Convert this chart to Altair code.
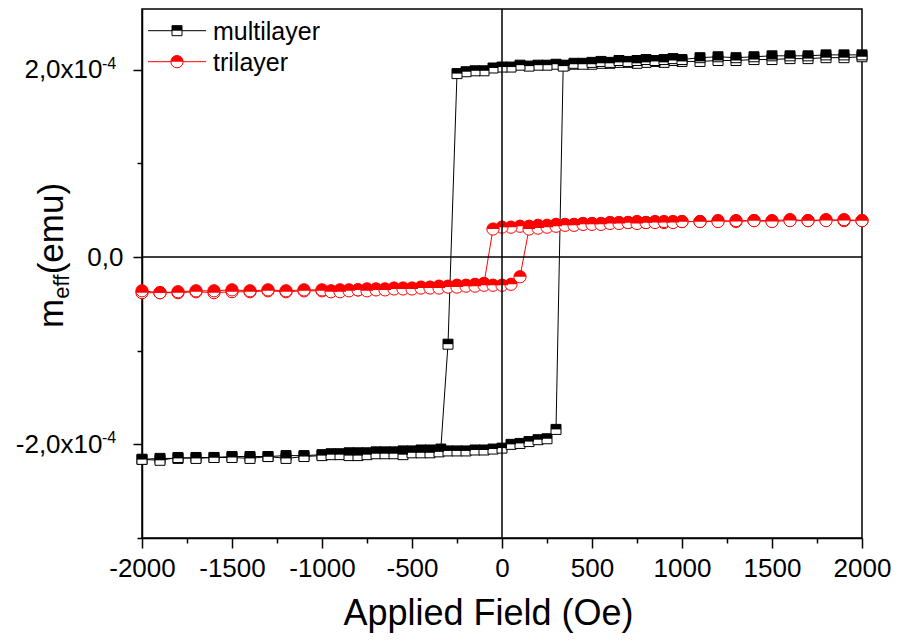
import altair as alt
import pandas as pd

# ---------------- data (m in units of 1e-4 emu) ----------------
series_names = ["multilayer", "trilayer"]
series_colors = ["black", "red"]

ml_down_H = [2000, 1900, 1800, 1700, 1600, 1500, 1400, 1300, 1200, 1100,
             1000, 950, 900, 850, 800, 750, 700, 650, 600, 550, 500, 450, 400, 350, 300,
             250, 200, 150, 100, 50, 0, -50, -100, -150, -200, -250, -300,
             -340, -400, -450, -500, -550, -600, -650, -700, -750, -800, -850, -900, -950, -1000,
             -1100, -1200, -1300, -1400, -1500, -1600, -1700, -1800, -1900, -2000]
ml_down_m = [2.14, 2.13, 2.13, 2.12, 2.12, 2.11, 2.11, 2.10, 2.10, 2.09,
             2.09, 2.10, 2.08, 2.09, 2.08, 2.07, 2.08, 2.08, 2.07, 2.07, 2.06, 2.07, 2.06, 2.05, 2.06,
             2.05, 2.05, 2.04, 2.05, 2.03, 2.03, 2.02, 1.99, 1.99, 1.98, 1.96, -0.93,
             -2.05, -2.06, -2.06, -2.07, -2.07, -2.08, -2.08, -2.08, -2.09, -2.09, -2.09, -2.10, -2.10, -2.11,
             -2.12, -2.12, -2.13, -2.13, -2.13, -2.14, -2.14, -2.15, -2.15, -2.16]

ml_up_H = [-2000, -1900, -1800, -1700, -1600, -1500, -1400, -1300, -1200, -1100,
           -1000, -950, -900, -850, -800, -750, -700, -650, -600, -550, -500, -450, -400, -350,
           -300, -250, -200, -150, -100, -50, 0, 50, 100, 150, 200, 250, 300,
           340, 400, 450, 500, 550, 600, 650, 700, 750, 800, 850, 900, 950, 1000,
           1100, 1200, 1300, 1400, 1500, 1600, 1700, 1800, 1900, 2000]
ml_up_m = [-2.16, -2.17, -2.14, -2.15, -2.14, -2.14, -2.15, -2.13, -2.15, -2.13,
           -2.12, -2.11, -2.11, -2.12, -2.12, -2.11, -2.10, -2.10, -2.10, -2.11, -2.09, -2.09, -2.09, -2.08,
           -2.07, -2.07, -2.07, -2.06, -2.06, -2.05, -2.04, -2.00, -1.99, -1.97, -1.95, -1.94, -1.84,
           2.04, 2.07, 2.06, 2.08, 2.09, 2.08, 2.10, 2.09, 2.10, 2.11, 2.10, 2.11, 2.12, 2.11,
           2.13, 2.14, 2.13, 2.14, 2.15, 2.15, 2.15, 2.16, 2.16, 2.16]

tl_down_H = [2000, 1900, 1800, 1700, 1600, 1500, 1400, 1300, 1200, 1100,
             1000, 950, 900, 850, 800, 750, 700, 650, 600, 550, 500, 450, 400, 350, 300,
             250, 200, 150, 100, 50, 0, -50,
             -100, -150, -200, -250, -300, -350, -400, -450, -500, -550, -600, -650, -700, -750,
             -800, -850, -900, -950, -1000,
             -1100, -1200, -1300, -1400, -1500, -1600, -1700, -1800, -1900, -2000]
tl_down_m = [0.39, 0.39, 0.40, 0.39, 0.40, 0.39, 0.39, 0.38, 0.39, 0.38,
             0.38, 0.38, 0.37, 0.38, 0.37, 0.38, 0.37, 0.37, 0.37, 0.36, 0.36, 0.36, 0.35, 0.35, 0.35,
             0.34, 0.34, 0.33, 0.33, 0.32, 0.32, 0.30,
             -0.28, -0.29, -0.30, -0.30, -0.31, -0.31, -0.32, -0.32, -0.33, -0.33, -0.33, -0.34, -0.34, -0.34,
             -0.35, -0.35, -0.35, -0.36, -0.36,
             -0.36, -0.37, -0.36, -0.37, -0.37, -0.38, -0.37, -0.38, -0.38, -0.38]

tl_up_H = [-2000, -1900, -1800, -1700, -1600, -1500, -1400, -1300, -1200, -1100,
           -1000, -950, -900, -850, -800, -750, -700, -650, -600, -550, -500, -450, -400, -350,
           -300, -250, -200, -150, -100, -50, 0, 50, 100,
           150, 200, 250, 300, 350, 400, 450, 500, 550, 600, 650, 700, 750, 800, 850, 900, 950, 1000,
           1100, 1200, 1300, 1400, 1500, 1600, 1700, 1800, 1900, 2000]
tl_up_m = [-0.36, -0.38, -0.37, -0.36, -0.36, -0.35, -0.36, -0.35, -0.36, -0.35,
           -0.35, -0.37, -0.37, -0.36, -0.35, -0.36, -0.35, -0.35, -0.34, -0.34, -0.34, -0.33, -0.33, -0.33,
           -0.32, -0.32, -0.31, -0.31, -0.30, -0.30, -0.30, -0.29, -0.21,
           0.30, 0.31, 0.32, 0.33, 0.34, 0.34, 0.35, 0.35, 0.35, 0.36, 0.36, 0.37, 0.36, 0.37, 0.37, 0.38, 0.37, 0.38,
           0.38, 0.38, 0.39, 0.39, 0.38, 0.39, 0.39, 0.39, 0.40, 0.39]

x_tick_values = [-2000, -1750, -1500, -1250, -1000, -750, -500, -250, 0,
                 250, 500, 750, 1000, 1250, 1500, 1750, 2000]
y_tick_values = [-3, -2, -1, 0, 1, 2]
y_exp_values = [2, -2]
y_exp_text = ["-4", "-4"]
x_title = "Applied Field (Oe)"
y_title_parts = ["m", "eff", "(emu)"]

# ---------------- build table ----------------
rows = []
for name, branches in [("multilayer", [(ml_down_H, ml_down_m), (ml_up_H, ml_up_m)]),
                       ("trilayer", [(tl_down_H, tl_down_m), (tl_up_H, tl_up_m)])]:
    i = 0
    for hs, ms in branches:
        for h, m in zip(hs, ms):
            rows.append({"series": name, "H": h, "m": m, "i": i})
            i += 1
df = pd.DataFrame(rows)

FONT = "Liberation Sans"
W, Hh = 720, 529

xscale = alt.Scale(domain=[-2000, 2000], nice=False, zero=False)
yscale = alt.Scale(domain=[-3.0, 2.65], nice=False, zero=False)

x_axis = alt.Axis(
    values=x_tick_values,
    labelExpr="datum.value % 500 === 0 ? '' + datum.value : ''",
    tickSize={"condition": {"test": "datum.value % 500 === 0", "value": 10}, "value": 5},
    labelPadding=7,
    labelFontSize=26,
    labelOverlap=False,
    labelFlush=False,
    title=x_title,
    titleFontSize=36,
    titleX=346,
    titleY=86,
    titleBaseline="alphabetic",
    titleAlign="center",
    titleAnchor="start",
)
y_axis = alt.Axis(
    values=y_tick_values,
    labelExpr="datum.value % 2 !== 0 ? '' : datum.value === 0 ? '0,0' : "
              "(datum.value < 0 ? '-' : '') + replace(format(abs(datum.value), '.1f'), '.', ',') + 'x10'",
    tickSize={"condition": {"test": "datum.value % 2 === 0", "value": 9}, "value": 5},
    labelPadding={"condition": {"test": "abs(datum.value) === 2", "value": 31}, "value": 10},
    labelFontSize=26,
    labelOverlap=False,
    labelFlush=False,
    title=None,
)

x_enc = alt.X("H:Q", scale=xscale, axis=x_axis)
y_enc = alt.Y("m:Q", scale=yscale, axis=y_axis)

shapes = {"multilayer": ("square", "M-1,-1H1V0H-1Z", 100),
          "trilayer": ("circle", "M-1,0A1,1 0 0 1 1,0Z", 150)}

data_layers = []
for name, col in zip(series_names, series_colors):
    base = alt.Chart(df).transform_filter(alt.datum.series == name)
    shp, half, sz = shapes[name]
    line = base.mark_line(color=col, strokeWidth=1).encode(x=x_enc, y=y_enc, order="i:Q")
    bottom = base.mark_point(shape=shp, filled=True, fill="white", stroke=col,
                             strokeWidth=1, size=sz, opacity=1).encode(x=x_enc, y=y_enc, order="i:Q")
    top = base.mark_point(shape=half, filled=True, fill=col, strokeWidth=0,
                          size=sz, opacity=1).encode(x=x_enc, y=y_enc, order="i:Q")
    data_layers += [line, bottom, top]

zero_v = alt.Chart(pd.DataFrame({"H": [0]})).mark_rule(color="black", strokeWidth=1.5).encode(x=x_enc)
zero_h = alt.Chart(pd.DataFrame({"m": [0]})).mark_rule(color="black", strokeWidth=1.5).encode(y=y_enc)

# superscript exponent of the y tick labels
exp_df = pd.DataFrame({"m": y_exp_values, "t": y_exp_text})
exp_txt = alt.Chart(exp_df).mark_text(align="left", baseline="alphabetic", fontSize=16, font=FONT,
                                      color="black", dy=-1).encode(
    x=alt.value(-40), y=y_enc, text="t:N")

main = alt.layer(*data_layers, zero_v, zero_h, exp_txt)

# ---------------- legend (inside, top-left) ----------------
leg_df = pd.DataFrame({"series": series_names})
leg_y = alt.Y("series:N", scale=alt.Scale(type="point", domain=series_names, range=[21.7, 52.7], padding=0),
              axis=None)
leg_layers = []
for name, col in zip(series_names, series_colors):
    lb = alt.Chart(leg_df).transform_filter(alt.datum.series == name)
    shp, half, sz = shapes[name]
    leg_layers.append(lb.mark_rule(color=col, strokeWidth=1).encode(
        x=alt.value(6), x2=alt.value(64), y=leg_y))
    leg_layers.append(lb.mark_point(shape=shp, filled=True, fill="white", stroke=col, strokeWidth=1,
                                    size=sz, opacity=1).encode(x=alt.value(35), y=leg_y))
    leg_layers.append(lb.mark_point(shape=half, filled=True, fill=col, strokeWidth=0,
                                    size=sz, opacity=1).encode(x=alt.value(35), y=leg_y))
leg_layers.append(alt.Chart(leg_df).mark_text(align="left", baseline="middle", fontSize=25, font=FONT,
                                              color="black", dy=1).encode(
    x=alt.value(71), y=leg_y, text="series:N"))

# ---------------- y title with subscript ----------------
one = pd.DataFrame({"a": [0]})
yt_m = alt.Chart(one).mark_text(text=y_title_parts[0], angle=270, align="left", baseline="alphabetic",
                                fontSize=35, font=FONT, color="black").encode(
    x=alt.value(-79), y=alt.value(319))
yt_eff = alt.Chart(one).mark_text(text=y_title_parts[1], angle=270, align="left", baseline="alphabetic",
                                  fontSize=22, font=FONT, color="black").encode(
    x=alt.value(-73), y=alt.value(289.8))
yt_emu = alt.Chart(one).mark_text(text=y_title_parts[2], angle=270, align="left", baseline="alphabetic",
                                  fontSize=35, font=FONT, color="black").encode(
    x=alt.value(-79), y=alt.value(265.3))

legend = alt.layer(*leg_layers, yt_m, yt_eff, yt_emu)

chart = alt.layer(main, legend).resolve_scale(y="independent").properties(
    width=W, height=Hh,
    padding={"left": 134, "top": 1, "right": 29, "bottom": 95},
    autosize=alt.AutoSizeParams(type="none"),
).configure_view(
    stroke="black", strokeWidth=1.5
).configure_axis(
    domainColor="black", domainWidth=1.5, tickColor="black", tickWidth=1.5,
    labelFont=FONT, labelColor="black", titleFont=FONT, titleColor="black",
    titleFontWeight="normal", grid=False,
)

chart.save("out.html", embed_options={"renderer": "svg", "actions": False})
